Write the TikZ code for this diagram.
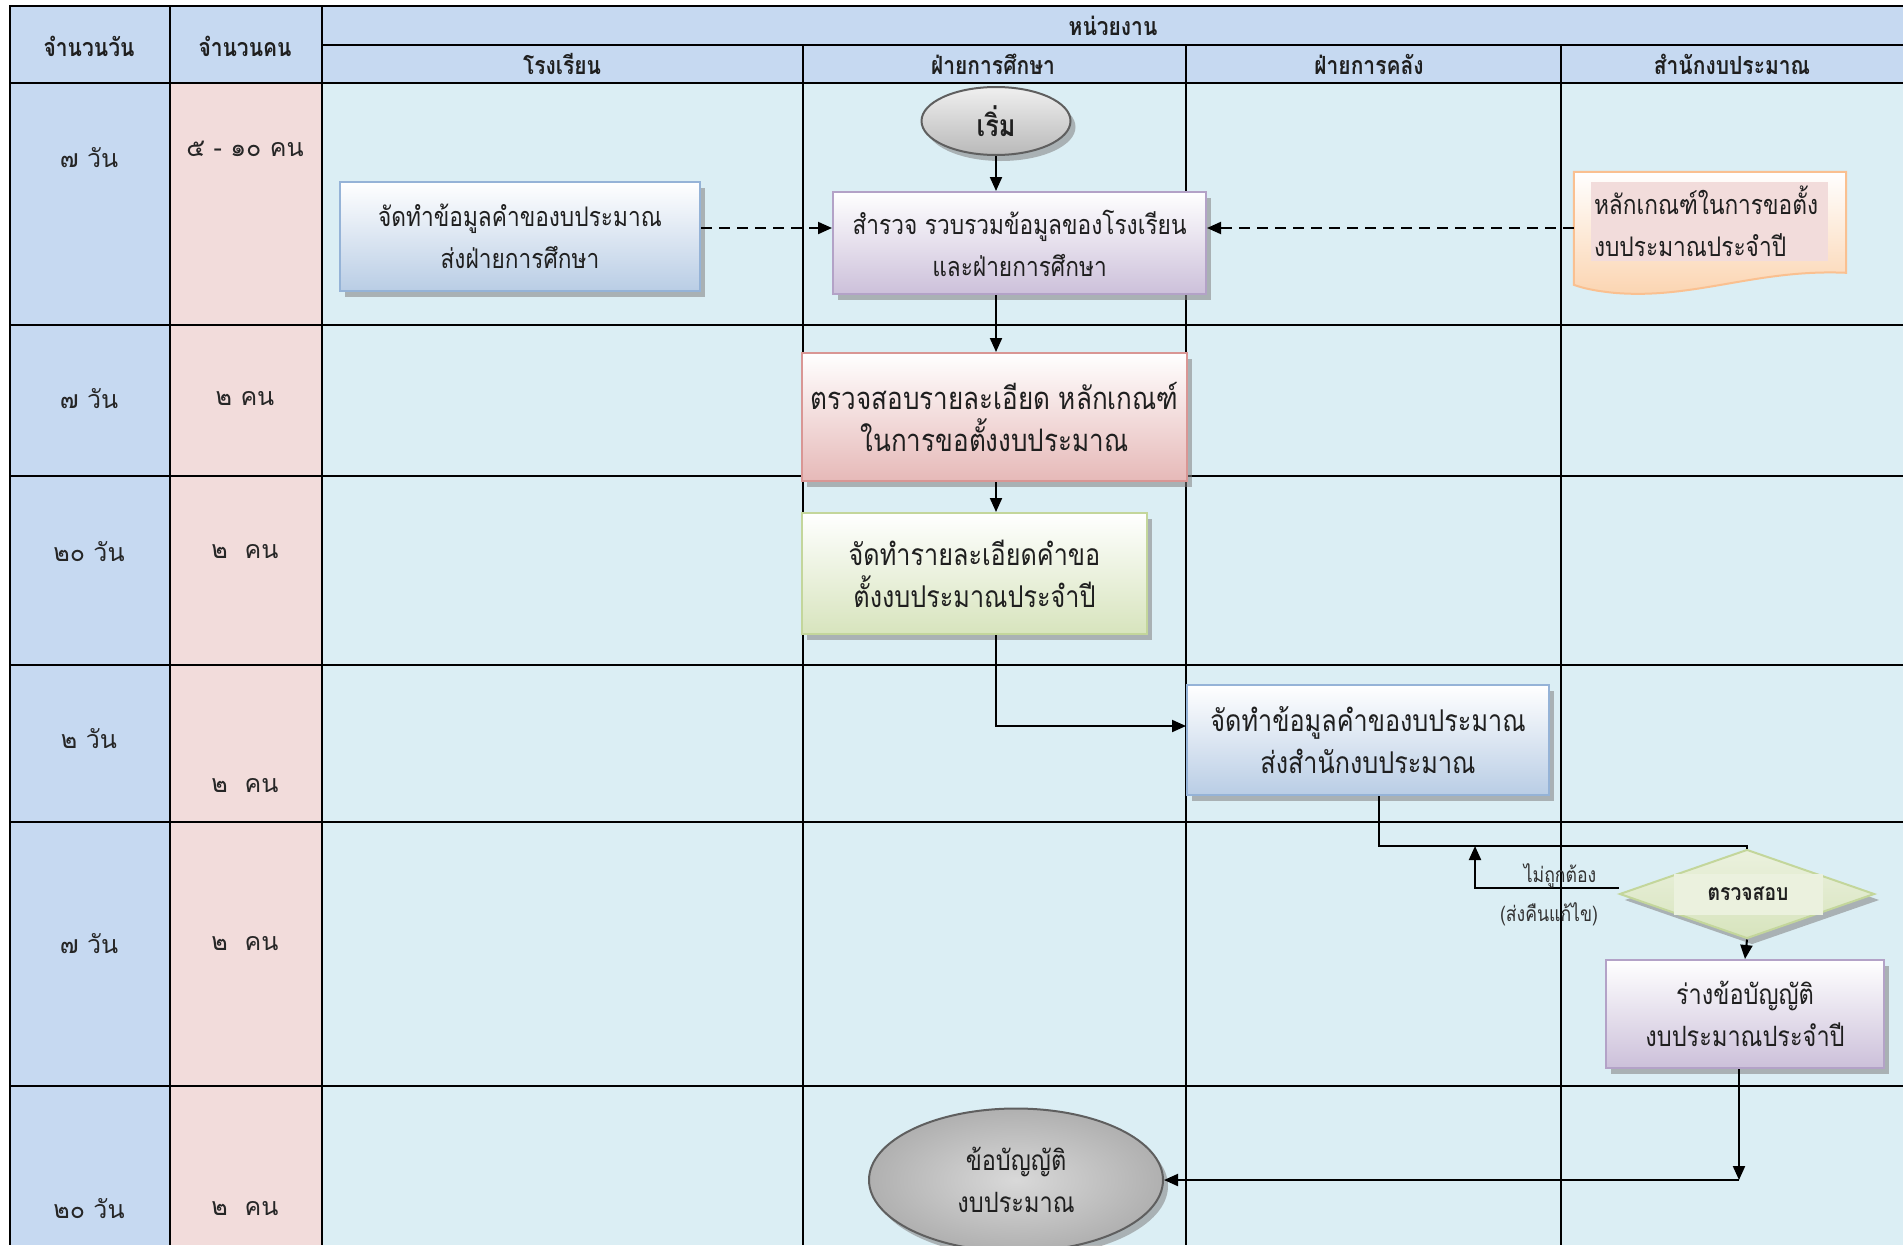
\documentclass[tikz,border=0pt]{standalone}
\usepackage{fontspec}
\newfontfamily\thai[Script=Thai,FakeStretch=0.84]{Loma}
\newfontfamily\thaiwide[Script=Thai]{Loma}
\usetikzlibrary{arrows.meta,shapes.geometric,shadows,calc}

\definecolor{headblue}{HTML}{C6D9F1}
\definecolor{peoplepink}{HTML}{F2DCDB}
\definecolor{lanebg}{HTML}{DBEEF4}
\definecolor{blueedge}{HTML}{95B3D7}
\definecolor{bluefill}{HTML}{B9CDE5}
\definecolor{purpleedge}{HTML}{B3A2C7}
\definecolor{purplefill}{HTML}{CCC0DA}
\definecolor{rededge}{HTML}{D99694}
\definecolor{redfill}{HTML}{E6B9B8}
\definecolor{greenedge}{HTML}{C3D69B}
\definecolor{greenfill}{HTML}{D7E4BD}
\definecolor{orangeedge}{HTML}{FAC090}
\definecolor{orangefill}{HTML}{FBD3AE}
\definecolor{greenpale}{HTML}{EBF1DE}
\definecolor{termedge}{HTML}{5F5F5F}

\tikzset{
  textsize/.style={font=\thai\fontsize{#1}{42}\selectfont},
  boxtext/.style={textsize=27, align=center, text=black!88},
  boxshadow/.style={general shadow={fill=black!50, opacity=0.55, shadow xshift=5pt, shadow yshift=-6pt}},
  procbox/.style 2 args={rectangle, draw=#1, line width=2pt, top color=white, bottom color=#2,
    boxshadow, boxtext, inner sep=0pt},
  terminal/.style={ellipse, draw=termedge, line width=2pt, boxshadow, inner sep=0pt, boxtext},
  hdrtext/.style={font=\thai\bfseries\fontsize{25}{28}\selectfont, text=black!88},
  celltext/.style={font=\thaiwide\fontsize{25}{28}\selectfont, text=black!85},
  outerrule/.style={line width=2.6pt},
  rowrule/.style={line width=2pt},
  lanerule/.style={line width=1.6pt},
  flow/.style={line width=2pt, -{Triangle[length=14pt,width=12pt]}},
  dflow/.style={flow, dash pattern=on 11pt off 7pt},
  link/.style={line width=2pt},
  notetext/.style={font=\thai\fontsize{21}{24}\selectfont, text=black!80},
}

\begin{document}
\begin{tikzpicture}[x=1pt,y=-1pt]
\useasboundingbox (0,0) rectangle (1903,1245);
\fill[white] (0,0) rectangle (1903,1245);

% ---- table backgrounds ----
\fill[headblue] (10,6) rectangle (1903,83);
\fill[headblue] (10,83) rectangle (170,1245);
\fill[peoplepink] (170,83) rectangle (322,1245);
\fill[lanebg] (322,83) rectangle (1903,1245);

% ---- table rules ----
\draw[lanerule] (803,45) -- (803,1245);
\draw[lanerule] (1186,45) -- (1186,1245);
\draw[lanerule] (1561,45) -- (1561,1245);
\draw[rowrule] (322,45) -- (1903,45);
\foreach \yy in {325,476,665,822,1086}
  \draw[rowrule] (10,\yy) -- (1903,\yy);
\draw[outerrule] (10,6) -- (1903,6);
\draw[outerrule] (10,83) -- (1903,83);
\draw[outerrule] (10,5) -- (10,1245);
\draw[outerrule] (170,6) -- (170,1245);
\draw[outerrule] (322,6) -- (322,1245);

% ---- headers ----
\node[hdrtext] (hdays) at (89,46) {จำนวนวัน};
\node[hdrtext] (hpeople) at (245,46) {จำนวนคน};
\node[hdrtext] (hunits) at (1113,26) {หน่วยงาน};
\node[hdrtext] (hschool) at (562,64) {โรงเรียน};
\node[hdrtext] (hedu) at (993,64) {ฝ่ายการศึกษา};
\node[hdrtext] (hfin) at (1369,64) {ฝ่ายการคลัง};
\node[hdrtext] (hbudget) at (1732,64) {สำนักงบประมาณ};

% ---- days / people per step ----
\node[celltext] (d1) at (89,158) {๗ วัน};
\node[celltext] (p1) at (245,149) {๕ - ๑๐ คน};
\node[celltext] (d2) at (89,399) {๗ วัน};
\node[celltext] (p2) at (245,399) {๒ คน};
\node[celltext] (d3) at (89,552) {๒๐ วัน};
\node[celltext] (p3) at (245,552) {๒~~คน};
\node[celltext] (d4) at (89,739) {๒ วัน};
\node[celltext] (p4) at (245,786) {๒~~คน};
\node[celltext] (d5) at (89,944) {๗ วัน};
\node[celltext] (p5) at (245,944) {๒~~คน};
\node[celltext] (d6) at (89,1209) {๒๐ วัน};
\node[celltext] (p6) at (245,1209) {๒~~คน};

% ---- process steps ----
\node[terminal, top color=gray!12, bottom color=gray!55, minimum width=149, minimum height=68,
      font=\thai\bfseries\fontsize{30}{32}\selectfont] (start) at (996,121) {เริ่ม};

\node[procbox={blueedge}{bluefill}, minimum width=360, minimum height=109] (school) at (520,236.5)
  {จัดทำข้อมูลคำของบประมาณ\\ส่งฝ่ายการศึกษา};

\node[procbox={purpleedge}{purplefill}, minimum width=373, minimum height=102] (survey) at (1019.5,243)
  {สำรวจ รวบรวมข้อมูลของโรงเรียน\\และฝ่ายการศึกษา};

% criteria document with wavy lower edge
\node[minimum width=272, minimum height=122, inner sep=0pt] (doc) at (1710,233) {};
\begin{scope}[boxshadow]
\draw[draw=orangeedge, line width=2pt, top color=white, bottom color=orangefill]
  (doc.north west) -- (doc.north east) -- ($(doc.north east)+(0,101)$)
  .. controls ($(doc.north east)+(-90,97)$) and ($(doc.north west)+(120,128)$) .. ($(doc.north west)+(40,121)$)
  .. controls ($(doc.north west)+(20,119)$) and ($(doc.north west)+(8,116)$) .. ($(doc.north west)+(0,113)$)
  -- cycle;
\end{scope}
\node[fill=peoplepink, minimum width=237, minimum height=79, inner sep=3pt, align=left,
      textsize=27, text=black!88, text width=231] (doctext) at (1709.5,221.5)
  {หลักเกณฑ์ในการขอตั้ง\\งบประมาณประจำปี};

\node[procbox={rededge}{redfill}, minimum width=385, minimum height=128, textsize=31] (check) at (994.5,417)
  {ตรวจสอบรายละเอียด หลักเกณฑ์\\ในการขอตั้งงบประมาณ};

\node[procbox={greenedge}{greenfill}, minimum width=345, minimum height=121, textsize=30] (detail) at (974.5,573.5)
  {จัดทำรายละเอียดคำขอ\\ตั้งงบประมาณประจำปี};

\node[procbox={blueedge}{bluefill}, minimum width=362, minimum height=110, textsize=30] (submit) at (1368,740)
  {จัดทำข้อมูลคำของบประมาณ\\ส่งสำนักงบประมาณ};

\node[diamond, draw=greenedge, line width=2pt, top color=greenpale, bottom color=greenfill,
      boxshadow, minimum width=255, minimum height=89, inner sep=0pt] (verify) at (1747,894) {};
\node[fill=greenpale, minimum width=149, minimum height=41, inner sep=0pt,
      font=\thai\bfseries\fontsize{23}{26}\selectfont, text=black!88] (verifytext) at (1748,894) {ตรวจสอบ};

\node[procbox={purpleedge}{purplefill}, minimum width=278, minimum height=108, textsize=28] (draft) at (1745,1014)
  {ร่างข้อบัญญัติ\\งบประมาณประจำปี};

\node[terminal, inner color=gray!30, outer color=gray!62, minimum width=294, minimum height=143, textsize=28] (finish) at (1016,1180)
  {ข้อบัญญัติ\\งบประมาณ};

% ---- connectors ----
\coordinate (dashrow) at (0,228);
\coordinate (retjoin) at (1475,846);

\draw[flow] (start.south) -- (start.south |- survey.north);
\draw[dflow] (school.east |- dashrow) -- (survey.west |- dashrow);
\draw[dflow] (doc.west |- dashrow) -- (survey.east |- dashrow);
\draw[flow] (survey.south -| start.south) -- (check.north -| start.south);
\draw[flow] (check.south -| start.south) -- (detail.north -| start.south);
\draw[flow] (detail.south -| start.south) |- ([yshift=14pt]submit.west);
\draw[link] ([xshift=11pt]submit.south) |- (retjoin) -| (verify.north);
\draw[flow] ([yshift=6pt]verify.west) -| (retjoin);
\draw[flow] (verify.south) -- (draft.north);
\draw[flow] ([xshift=-6pt]draft.south) -- ([xshift=-6pt]draft.south |- finish.east);
\draw[flow] ([xshift=-6pt]draft.south |- finish.east) -- (finish.east);

\node[notetext] (wrong) at (1560,876) {ไม่ถูกต้อง};
\node[notetext] (sendback) at (1549,914) {(ส่งคืนแก้ไข)};
\end{tikzpicture}
\end{document}
